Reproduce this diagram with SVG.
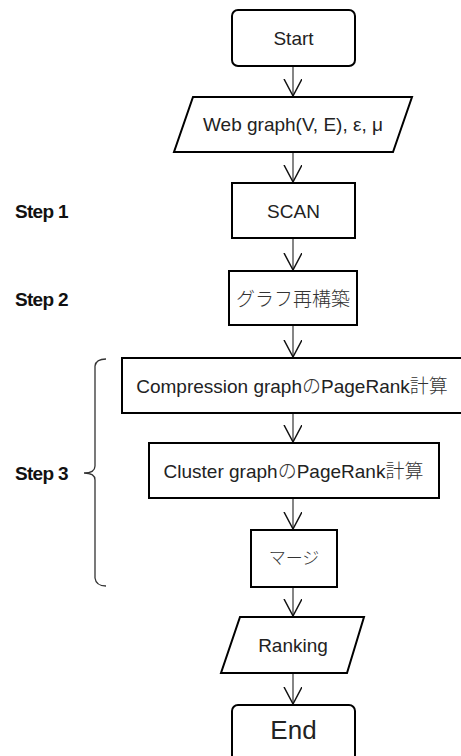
<svg xmlns="http://www.w3.org/2000/svg" width="461" height="756" viewBox="0 0 461 756">
  <style>
    .box { fill: #fff; stroke: #000; stroke-width: 2; }
    .lbl { font-family: "Liberation Sans", Arial, "Noto Sans CJK JP", sans-serif; font-size: 19px; fill: #222; text-anchor: middle; }
    .jp { font-family: "Liberation Sans", "Noto Sans CJK JP", sans-serif; font-weight: 300; fill: #333; }
    .step { font-family: "Liberation Sans", Arial, sans-serif; font-size: 19px; font-weight: bold; fill: #111; letter-spacing: -0.7px; }
    .edge { fill: none; stroke: #444; stroke-width: 1.3; }
  </style>
  <defs>
    <marker id="vee" markerWidth="20" markerHeight="20" refX="17" refY="9" orient="auto" markerUnits="userSpaceOnUse">
      <path d="M0,0 L17,9 L0,18" fill="none" stroke="#111" stroke-width="1.5"/>
    </marker>
  </defs>
  <rect width="461" height="756" fill="#fff"/>

  <!-- step labels -->
  <text class="step" x="15" y="218">Step 1</text>
  <text class="step" x="15" y="306">Step 2</text>
  <text class="step" x="15" y="480">Step 3</text>

  <!-- brace grouping step 3 -->
  <path d="M106,359 Q96,359 95,366 L95,466 Q95,473 84,473 Q95,473 95,480 L95,578 Q96,586 106,586" fill="none" stroke="#333" stroke-width="1.3"/>

  <!-- connectors -->
  <g id="connectors">
    <line class="edge" x1="293" y1="66" x2="293" y2="96" marker-end="url(#vee)"/>
    <line class="edge" x1="293" y1="152" x2="293" y2="182" marker-end="url(#vee)"/>
    <line class="edge" x1="293" y1="238" x2="293" y2="270" marker-end="url(#vee)"/>
    <line class="edge" x1="293" y1="325" x2="293" y2="357" marker-end="url(#vee)"/>
    <line class="edge" x1="293" y1="413" x2="293" y2="442" marker-end="url(#vee)"/>
    <line class="edge" x1="293" y1="498" x2="293" y2="529" marker-end="url(#vee)"/>
    <line class="edge" x1="293" y1="587" x2="293" y2="616" marker-end="url(#vee)"/>
    <line class="edge" x1="293" y1="673" x2="293" y2="704" marker-end="url(#vee)"/>
  </g>

  <g id="start">
    <rect class="box" x="232" y="10" width="123" height="56" rx="6"/>
    <text class="lbl" x="293.5" y="45">Start</text>
  </g>

  <g id="input">
    <polygon class="box" points="193,97 412,97 393,152 174,152"/>
    <text class="lbl" x="293" y="131">Web graph(V, E), ε, μ</text>
  </g>

  <g id="scan">
    <rect class="box" x="232" y="183" width="123" height="55"/>
    <text class="lbl" x="293.5" y="218">SCAN</text>
  </g>

  <g id="rebuild">
    <rect class="box" x="229" y="271" width="128" height="54"/>
    <text class="lbl jp" x="293" y="306">グラフ再構築</text>
  </g>

  <g id="compression">
    <rect class="box" x="122" y="358" width="345" height="55"/>
    <text class="lbl" x="292" y="393">Compression graph<tspan class="jp">の</tspan>PageRank<tspan class="jp">計算</tspan></text>
  </g>

  <g id="cluster">
    <rect class="box" x="149" y="443" width="290" height="55"/>
    <text class="lbl" x="293.5" y="478">Cluster graph<tspan class="jp">の</tspan>PageRank<tspan class="jp">計算</tspan></text>
  </g>

  <g id="merge">
    <rect class="box" x="251" y="530" width="86" height="57"/>
    <text class="lbl jp" x="294" y="564" style="font-size:17px">マージ</text>
  </g>

  <g id="ranking">
    <polygon class="box" points="240,617 364,617 347,673 221,673"/>
    <text class="lbl" x="293" y="652">Ranking</text>
  </g>

  <g id="end">
    <rect class="box" x="232" y="705" width="123" height="60" rx="6"/>
    <text class="lbl" x="293.5" y="739" style="font-size:26px">End</text>
  </g>
</svg>
